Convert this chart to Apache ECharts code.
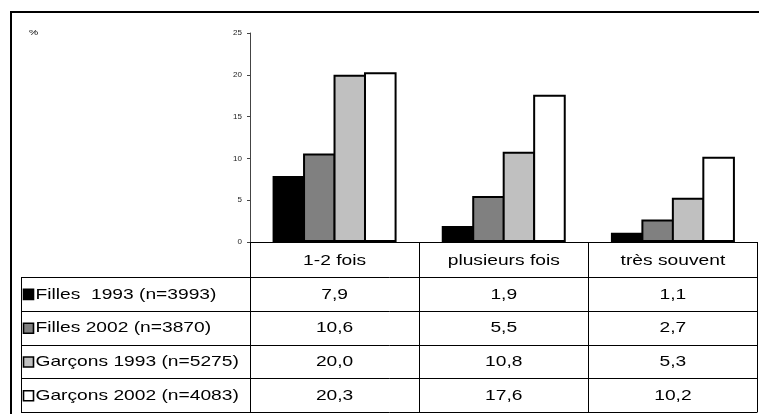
<!DOCTYPE html>
<html>
<head>
<meta charset="utf-8">
<script src="https://cdn.jsdelivr.net/npm/echarts@6/dist/echarts.min.js"></script>
<style>
html,body{margin:0;padding:0;background:#fff;overflow:hidden;}
#chart{width:759px;height:414px;}
</style>
</head>
<body>
<div id="chart"></div>
<script>
const categories = ['1-2 fois', 'plusieurs fois', 'très souvent'];
const seriesNames = ['Filles  1993 (n=3993)', 'Filles 2002 (n=3870)', 'Garçons 1993 (n=5275)', 'Garçons 2002 (n=4083)'];
const filles1993 = [7.9, 1.9, 1.1];
const filles2002 = [10.6, 5.5, 2.7];
const garcons1993 = [20.0, 10.8, 5.3];
const garcons2002 = [20.3, 17.6, 10.2];
const seriesColors = ['#000000', '#808080', '#C0C0C0', '#FFFFFF'];
const yMin = 0, yMax = 25, yStep = 5;
const unitLabel = '%';

const seriesValues = [filles1993, filles2002, garcons1993, garcons2002];
const FONT = "15px 'Liberation Sans', Arial, sans-serif";
const SX = 1.28;

const chart = echarts.init(document.getElementById('chart'), null, {renderer: 'canvas'});
chart.setOption({
  animation: false,
  backgroundColor: '#fff',
  grid: {left: 250, top: 33, width: 507.5, height: 209, containLabel: false},
  xAxis: {
    type: 'category',
    data: categories,
    axisLine: {show: true, lineStyle: {color: '#000', width: 1}},
    axisTick: {show: true, interval: 0, length: 170, lineStyle: {color: '#000', width: 1}},
    axisLabel: {show: false},
    splitLine: {show: false}
  },
  yAxis: {
    type: 'value',
    min: yMin, max: yMax, interval: yStep,
    axisLine: {show: true, lineStyle: {color: '#444', width: 1}},
    axisTick: {show: true, length: 3, lineStyle: {color: '#444'}},
    axisLabel: {color: '#222', fontSize: 8, margin: 8, fontFamily: "'Liberation Sans', Arial, sans-serif"},
    splitLine: {show: false}
  },
  series: seriesNames.map((n, i) => ({
    name: n,
    type: 'bar',
    data: seriesValues[i],
    barGap: '-6.5%',
    barCategoryGap: '26.7%',
    itemStyle: {color: seriesColors[i], borderColor: '#000', borderWidth: 2}
  }))
});

// Build data table from axes
const xs = categories.map(c => chart.convertToPixel({xAxisIndex: 0}, c));
const y0 = chart.convertToPixel({yAxisIndex: 0}, 0);
const rightX = 757.5;
const tableLeft = 21;
const headerBottom = 277;
const rowH = 33.8;
const g = [];
// outer border (top and left edges visible in frame)
g.push({type: 'line', shape: {x1: 10, y1: 12, x2: 759, y2: 12}, style: {stroke: '#000', lineWidth: 2}, silent: true});
g.push({type: 'line', shape: {x1: 11, y1: 11, x2: 11, y2: 414}, style: {stroke: '#000', lineWidth: 2}, silent: true});
// % label
g.push({type: 'text', x: 29, y: 33, scaleX: SX, style: {text: unitLabel, font: "8px 'Liberation Sans', Arial, sans-serif", fill: '#000', textAlign: 'left', textVerticalAlign: 'middle'}});
// header labels
categories.forEach((c, j) => {
  g.push({type: 'text', x: xs[j], y: (y0 + headerBottom) / 2 + 1, scaleX: SX, style: {text: c, font: FONT, fill: '#000', textAlign: 'center', textVerticalAlign: 'middle'}});
});
// horizontal lines
for (let r = 0; r <= seriesNames.length; r++) {
  const y = Math.round(headerBottom + r * rowH) + 0.5;
  g.push({type: 'line', shape: {x1: tableLeft, y1: y, x2: rightX, y2: y}, style: {stroke: '#000', lineWidth: 1}});
}
// left vertical line
g.push({type: 'line', shape: {x1: tableLeft + 0.5, y1: headerBottom, x2: tableLeft + 0.5, y2: Math.round(headerBottom + seriesNames.length * rowH) + 0.5}, style: {stroke: '#000', lineWidth: 1}});
// rows
seriesNames.forEach((n, i) => {
  const cy = headerBottom + (i + 0.5) * rowH + 0.5;
  g.push({type: 'rect', shape: {x: 23.5, y: cy - 5, width: 10, height: 10}, style: {fill: seriesColors[i], stroke: '#000', lineWidth: 1.6}});
  g.push({type: 'text', x: 35.5, y: cy, scaleX: SX, style: {text: n, font: FONT, fill: '#000', textAlign: 'left', textVerticalAlign: 'middle'}});
  seriesValues[i].forEach((v, j) => {
    g.push({type: 'text', x: xs[j], y: cy, scaleX: SX, style: {text: v.toFixed(1).replace('.', ','), font: FONT, fill: '#000', textAlign: 'center', textVerticalAlign: 'middle'}});
  });
});
chart.setOption({graphic: {elements: g}});
</script>
</body>
</html>
